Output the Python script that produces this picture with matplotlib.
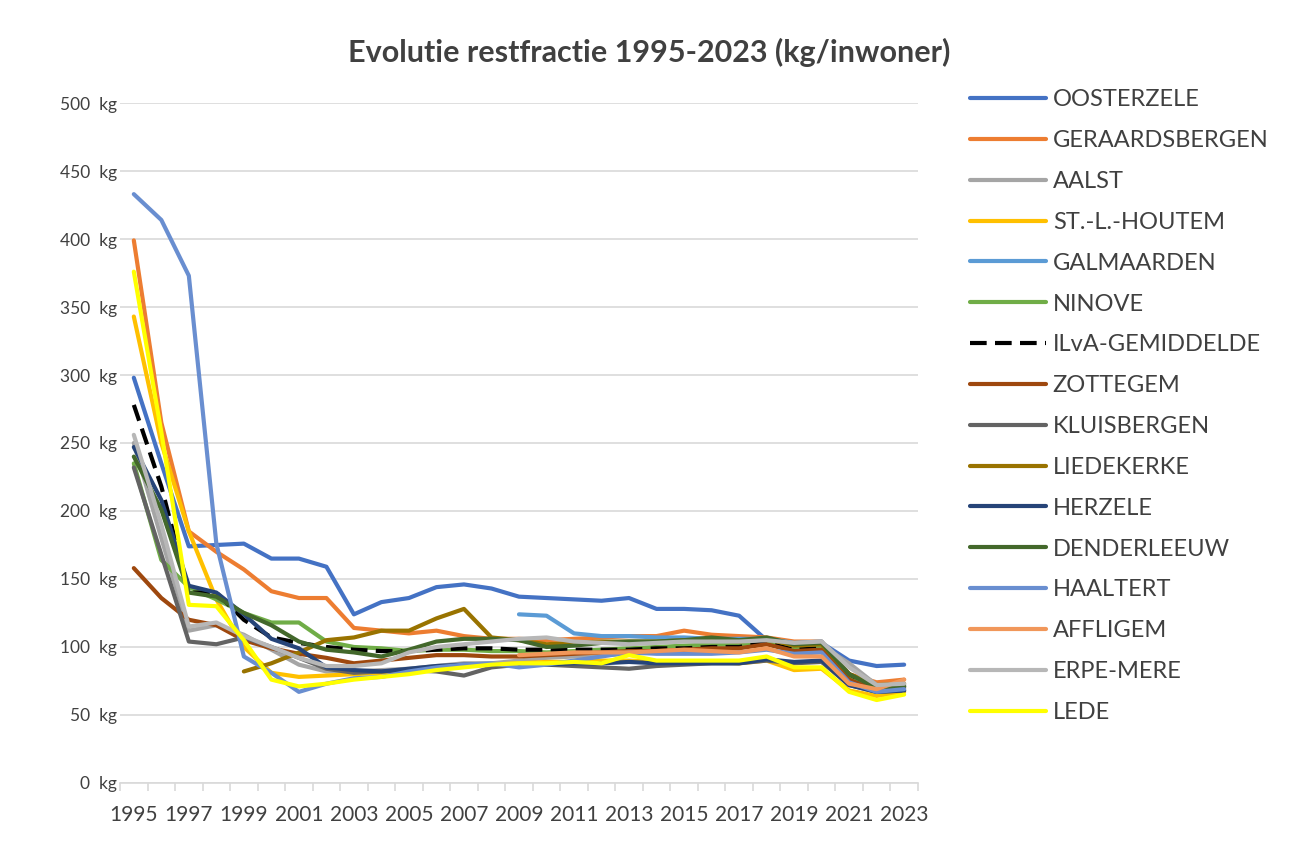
import numpy as np
import matplotlib
matplotlib.use("Agg")
import matplotlib.pyplot as plt
from matplotlib.ticker import FixedLocator, FuncFormatter

nan = np.nan
years = list(range(1995, 2024))

series_names = ["OOSTERZELE", "GERAARDSBERGEN", "AALST", "ST.-L.-HOUTEM", "GALMAARDEN",
                "NINOVE", "ILvA-GEMIDDELDE", "ZOTTEGEM", "KLUISBERGEN", "LIEDEKERKE",
                "HERZELE", "DENDERLEEUW", "HAALTERT", "AFFLIGEM", "ERPE-MERE", "LEDE"]

oosterzele = [298, 235, 174, 175, 176, 165, 165, 159, 124, 133, 136, 144, 146, 143, 137, 136, 135, 134, 136, 128, 128, 127, 123, 105, 102, 103, 90, 86, 87]
geraardsbergen = [399, 265, 185, 170, 157, 141, 136, 136, 114, 112, 110, 112, 108, 106, 106, 105, 106, 107, 108, 108, 112, 109, 108, 107, 104, 104, 80, 74, 76]
aalst = [250, 180, 112, 116, 109, 98, 87, 82, 82, 83, 84, 86, 88, 88, 90, 92, 93, 94, 95, 96, 97, 99, 99, 104, 100, 101, 88, 72, 72]
st_l_houtem = [343, 250, 185, 135, 100, 81, 78, 79, 80, 81, 83, 85, 86, 87, 88, 89, 89, 90, 90, 89, 89, 89, 88, 90, 83, 84, 68, 64, 67]
galmaarden = [nan] * 14 + [124, 123, 110, 108, 108, 107, 107, 106, 106, 106, 103, 104, 78, 70, 71]
ninove = [235, 164, 144, 135, 125, 118, 118, 104, 100, 99, 97, 98, 98, 97, 97, 96, 97, 98, 99, 100, 101, 102, 102, 104, 100, 101, 78, 70, 71]
ilva = [278, 218, 140, 140, 120, 107, 103, 100, 98, 97, 97, 98, 99, 99, 98, 98, 98, 98, 98, 99, 99, 100, 100, 103, 98, 99, 80, 70, 71]
zottegem = [158, 136, 120, 116, 105, 99, 95, 92, 88, 90, 92, 94, 94, 93, 93, 94, 95, 96, 97, 97, 98, 99, 99, 102, 97, 98, 76, 68, 70]
kluisbergen = [232, 168, 104, 102, 107, 100, 92, 84, 81, 82, 83, 82, 79, 85, 87, 87, 86, 85, 84, 86, 87, 88, 88, 90, 88, 89, 72, 67, 68]
liedekerke = [nan] * 4 + [82, 88, 96, 105, 107, 112, 112, 121, 128, 107, 105, 102, 103, 104, 104, 104, 105, 105, 104, 106, 101, 102, 80, 72, 73]
herzele = [247, 208, 145, 140, 124, 106, 99, 85, 83, 82, 84, 86, 87, 87, 87, 87, 88, 88, 89, 88, 88, 88, 88, 91, 89, 90, 72, 67, 68]
denderleeuw = [240, 201, 140, 137, 125, 116, 104, 98, 96, 93, 98, 104, 106, 106, 105, 100, 101, 103, 104, 104, 105, 107, 105, 107, 102, 103, 80, 70, 71]
haaltert = [433, 414, 373, 176, 93, 81, 67, 73, 77, 78, 82, 85, 87, 88, 85, 87, 90, 93, 96, 95, 95, 95, 96, 98, 95, 96, 74, 67, 69]
affligem = [nan] * 14 + [94, 95, 96, 96, 96, 97, 98, 97, 96, 99, 93, 93, 73, 69, 76]
erpe_mere = [256, 190, 115, 118, 108, 100, 92, 86, 86, 88, 96, 100, 102, 104, 106, 107, 104, 103, 102, 103, 104, 104, 104, 105, 103, 104, 85, 72, 73]
lede = [376, 258, 131, 130, 105, 76, 71, 73, 76, 78, 80, 83, 85, 87, 88, 88, 89, 88, 94, 90, 90, 90, 90, 93, 85, 85, 67, 61, 65]

values = [oosterzele, geraardsbergen, aalst, st_l_houtem, galmaarden, ninove, ilva,
          zottegem, kluisbergen, liedekerke, herzele, denderleeuw, haaltert, affligem,
          erpe_mere, lede]

colors = ["#4472C4", "#ED7D31", "#A5A5A5", "#FFC000", "#5B9BD5", "#70AD47", "#000000",
          "#9E480E", "#636363", "#997300", "#264478", "#43682B", "#698ED0", "#F1975A",
          "#B7B7B7", "#FFFF00"]

y_ticks = [0, 50, 100, 150, 200, 250, 300, 350, 400, 450, 500]

plt.rcParams['font.family'] = ['Lato', 'DejaVu Sans']

fig = plt.figure(figsize=(12.91, 8.41), dpi=100)
ax = fig.add_axes([0.093, 0.069, 0.618, 0.8085])

x = np.arange(len(years))
for name, vals, col in zip(series_names, values, colors):
    kw = dict(color=col, lw=3.0, label=name, solid_capstyle='round')
    if name == "ILvA-GEMIDDELDE":
        kw.update(linestyle=(0, (4, 2)), dash_capstyle='butt')
    ax.plot(x, np.array(vals, dtype=float), **kw)

ax.set_xlim(-0.5, len(years) - 0.5)
ax.set_ylim(0, 500)
ax.yaxis.set_major_locator(FixedLocator(y_ticks))
ax.yaxis.set_major_formatter(FuncFormatter(lambda v, p: f"{int(v)}  kg"))
ax.grid(axis='y', color='#D9D9D9', lw=1.2)
ax.set_axisbelow(True)
for s in ['top', 'right', 'left']:
    ax.spines[s].set_visible(False)
ax.spines['bottom'].set_color('#D9D9D9')
ax.spines['bottom'].set_linewidth(1.2)

ax.set_xticks(x[::2])
ax.set_xticklabels([str(y) for y in years[::2]])
ax.set_xticks(np.arange(-0.5, len(years), 1), minor=True)
ax.tick_params(axis='x', which='major', length=0, labelsize=15, labelcolor='#404040', pad=16)
ax.tick_params(axis='x', which='minor', length=6, color='#D9D9D9', width=1.2)
ax.tick_params(axis='y', length=0, labelsize=12.5, labelcolor='#404040', pad=2)

fig.text(0.503, 0.938, "Evolutie restfractie 1995-2023 (kg/inwoner)", ha='center', va='center',
         fontsize=22, fontweight='bold', color='#404040')

leg = fig.legend(loc='upper left', bbox_to_anchor=(0.735, 0.919), frameon=False,
                 fontsize=17, handlelength=3.2, handletextpad=0.3, labelspacing=0.84,
                 labelcolor='#404040')

fig.savefig("out.png", dpi=100)
